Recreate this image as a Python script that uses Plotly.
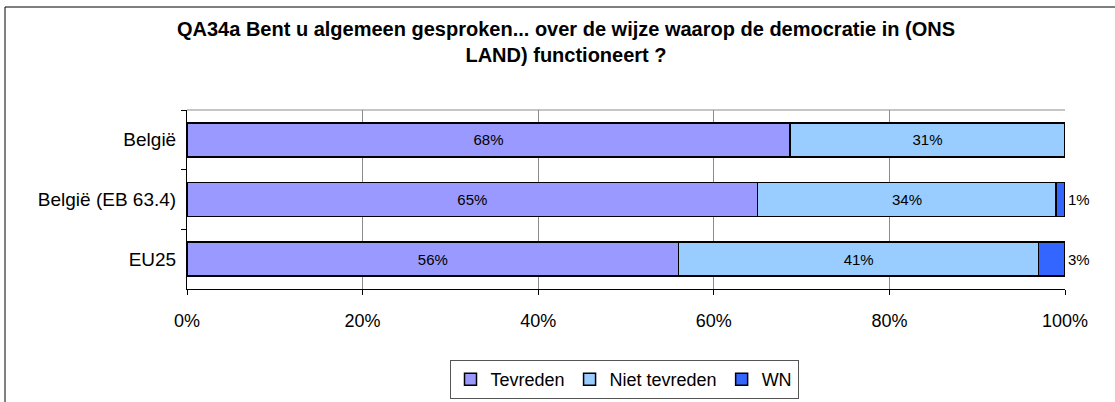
import plotly.graph_objects as go

categories = ["België", "België (EB 63.4)", "EU25"]
series_names = ["Tevreden", "Niet tevreden", "WN"]
tevreden = [68, 65, 56]
niet_tevreden = [31, 34, 41]
wn = [0, 1, 3]
x_ticks = [0, 20, 40, 60, 80, 100]
x_tick_labels = ["0%", "20%", "40%", "60%", "80%", "100%"]
colors = ["#9999FF", "#99CCFF", "#3366FF"]

FONT = "Arial, Liberation Sans, sans-serif"

fig = go.Figure()
values = [tevreden, niet_tevreden, wn]
for i, (name, vals) in enumerate(zip(series_names, values)):
    texts = [f"{v}%" if v > 0 else "" for v in vals]
    fig.add_trace(go.Bar(
        y=categories, x=vals, name=name, orientation="h",
        marker=dict(color=colors[i], line=dict(color="black", width=1.5)),
        text=texts,
        textposition="outside" if i == 2 else "inside",
        insidetextanchor="middle",
        textfont=dict(family=FONT, size=15, color="black"),
        outsidetextfont=dict(family=FONT, size=15, color="black"),
        cliponaxis=False,
        hoverinfo="skip",
    ))

fig.update_layout(
    width=1115, height=402,
    margin=dict(l=187, r=50, t=110, b=113, autoexpand=False),
    paper_bgcolor="white", plot_bgcolor="white",
    barmode="stack", barnorm="percent", bargap=0.43,
    font=dict(family=FONT, color="black"),
    title=dict(
        text="QA34a Bent u algemeen gesproken... over de wijze waarop de democratie in (ONS<br>LAND) functioneert ?",
        x=566 / 1115, xanchor="center", xref="container",
        y=1 - 36 / 402, yanchor="top", yref="container",
        font=dict(family=FONT, size=20, color="black", weight="bold"),
    ),
    showlegend=True,
    legend=dict(
        orientation="h", xref="container", yref="container",
        x=624 / 1115, xanchor="center", y=1 - 360 / 402, yanchor="top",
        font=dict(family=FONT, size=18, color="black"),
        bordercolor="#555555", borderwidth=1, bgcolor="white",
        traceorder="normal",
    ),
    xaxis=dict(
        range=[0, 100], tickvals=x_ticks, ticktext=x_tick_labels,
        showgrid=True, gridcolor="#8c8c8c", gridwidth=1,
        showline=True, linecolor="black", linewidth=1,
        ticks="outside", ticklen=5, tickcolor="black",
        tickfont=dict(family=FONT, size=18, color="black"),
        ticklabelstandoff=10, zeroline=False, fixedrange=True,
        automargin=False,
    ),
    yaxis=dict(
        categoryorder="array", categoryarray=categories, autorange="reversed",
        showline=True, linecolor="black", linewidth=1,
        ticks="outside", ticklen=5, tickcolor="black", tickson="boundaries",
        tickfont=dict(family=FONT, size=19, color="black"),
        ticklabelstandoff=6, showgrid=False, fixedrange=True,
        automargin=False,
    ),
    shapes=[
        # plot area top border (gray)
        dict(type="line", xref="paper", yref="paper", x0=0, x1=1, y0=1, y1=1,
             line=dict(color="#8c8c8c", width=1), layer="below"),
        # chart outer border: top and left
        dict(type="line", xref="paper", yref="paper",
             x0=(5 - 187) / 878, x1=(1120 - 187) / 878,
             y0=(289 - 7) / 179, y1=(289 - 7) / 179,
             line=dict(color="black", width=1)),
        dict(type="line", xref="paper", yref="paper",
             x0=(5 - 187) / 878, x1=(5 - 187) / 878,
             y0=(289 - 7) / 179, y1=(289 - 410) / 179,
             line=dict(color="black", width=1)),
    ],
)

fig.write_html(
    "out.html",
    config={"displayModeBar": False, "staticPlot": True},
    post_script="document.body.style.margin='0';document.body.style.overflow='hidden';",
)
